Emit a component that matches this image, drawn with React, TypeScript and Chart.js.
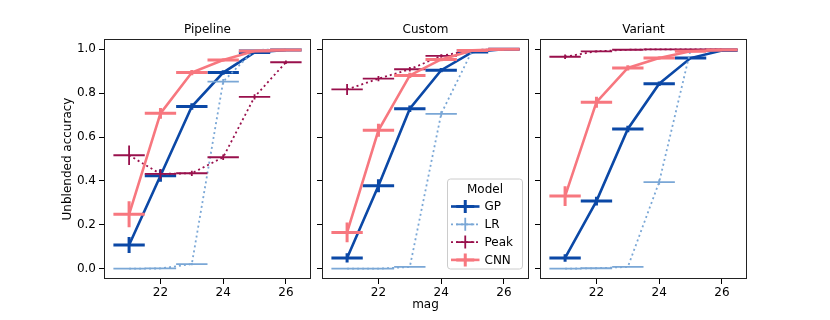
import React, { useEffect, useRef } from "react";
import { Chart, registerables } from "chart.js";

Chart.register(...registerables);

// ---------- data ----------
const mags = [21, 22, 23, 24, 25, 26];
const binHalfWidth = 0.5;
const xTicks = [22, 24, 26];
const yTicks = [0, 0.2, 0.4, 0.6, 0.8, 1.0];
const panelTitles = ["Pipeline", "Custom", "Variant"];
const seriesNames = ["GP", "LR", "Peak", "CNN"];
const legendTitle = "Model";
const xLabel = "mag";
const yLabel = "Unblended accuracy";

const pipelineGP = [0.108, 0.424, 0.739, 0.894, 0.986, 0.997];
const pipelineLR = [0.0, 0.001, 0.021, 0.853, 0.997, 1.0];
const pipelinePeak = [0.517, 0.432, 0.435, 0.508, 0.783, 0.941];
const pipelineCNN = [0.248, 0.708, 0.894, 0.951, 0.992, 0.997];

const customGP = [0.049, 0.378, 0.729, 0.905, 0.988, 1.0];
const customLR = [0.0, 0.0, 0.008, 0.706, 0.997, 1.0];
const customPeak = [0.817, 0.866, 0.909, 0.97, 0.997, 1.0];
const customCNN = [0.165, 0.631, 0.881, 0.954, 0.995, 1.0];

const variantGP = [0.049, 0.308, 0.637, 0.843, 0.96, 0.995];
const variantLR = [0.0, 0.002, 0.008, 0.395, 0.997, 1.0];
const variantPeak = [0.966, 0.991, 0.998, 1.0, 1.0, 1.0];
const variantCNN = [0.331, 0.759, 0.915, 0.96, 0.991, 0.997];

const pipelineGPErr = [0.036, 0.028, 0.015, 0.01, 0.004, 0.002];
const pipelineLRErr = [0.001, 0.001, 0.005, 0.012, 0.003, 0.001];
const pipelinePeakErr = [0.044, 0.022, 0.012, 0.012, 0.012, 0.008];
const pipelineCNNErr = [0.059, 0.025, 0.012, 0.008, 0.004, 0.002];

const customGPErr = [0.021, 0.03, 0.015, 0.01, 0.004, 0.002];
const customLRErr = [0.001, 0.001, 0.004, 0.012, 0.003, 0.001];
const customPeakErr = [0.025, 0.012, 0.01, 0.008, 0.003, 0.001];
const customCNNErr = [0.045, 0.03, 0.012, 0.008, 0.004, 0.002];

const variantGPErr = [0.017, 0.02, 0.015, 0.01, 0.006, 0.002];
const variantLRErr = [0.001, 0.001, 0.004, 0.012, 0.003, 0.001];
const variantPeakErr = [0.01, 0.005, 0.002, 0.001, 0.001, 0.001];
const variantCNNErr = [0.045, 0.025, 0.012, 0.008, 0.004, 0.002];

const panelValues = [
  [pipelineGP, pipelineLR, pipelinePeak, pipelineCNN],
  [customGP, customLR, customPeak, customCNN],
  [variantGP, variantLR, variantPeak, variantCNN],
];
const panelErrors = [
  [pipelineGPErr, pipelineLRErr, pipelinePeakErr, pipelineCNNErr],
  [customGPErr, customLRErr, customPeakErr, customCNNErr],
  [variantGPErr, variantLRErr, variantPeakErr, variantCNNErr],
];

// ---------- styles / layout ----------
const W = 830;
const H = 320;
const FONT = "DejaVu Sans";
const seriesColors = ["#0b48a6", "#7aa7d6", "#99104c", "#f7777f"];
const seriesLineWidths = [2.6, 1.8, 1.8, 2.6];
const seriesErrWidths = [3, 1.8, 1.8, 3];
const seriesDash: number[][] = [[], [2, 3], [2, 3], []];
const panelBoxes = [
  { left: 104, right: 311 },
  { left: 322, right: 529 },
  { left: 540, right: 747 },
];
const plotTop = 39;
const plotBottom = 279;
const xAxisH = 36;

function buildConfig(p: number): any {
  const box = panelBoxes[p];
  const yW = p === 0 ? 50 : 8;
  const datasets = seriesNames.map((name, s) => ({
    label: name,
    data: mags.map((m, k) => ({ x: m, y: panelValues[p][s][k] })),
    errs: panelErrors[p][s],
    borderColor: seriesColors[s],
    backgroundColor: seriesColors[s],
    borderWidth: seriesLineWidths[s],
    borderDash: seriesDash[s],
    borderCapStyle: "butt",
    pointRadius: 0,
    tension: 0,
    fill: false,
    order: seriesNames.length - s,
  }));

  const drawPlugin = {
    id: "panelDecor" + p,
    afterDatasetDraw(chart: any, args: any) {
      const ds = chart.data.datasets[args.index];
      const xs = chart.scales.x;
      const ys = chart.scales.y;
      const ctx = chart.ctx;
      const s = args.index;
      ctx.save();
      ctx.strokeStyle = seriesColors[s];
      ctx.lineWidth = seriesErrWidths[s];
      ctx.setLineDash([]);
      ctx.lineCap = "butt";
      ds.data.forEach((pt: any, k: number) => {
        const e = ds.errs[k];
        const px1 = xs.getPixelForValue(pt.x - binHalfWidth);
        const px2 = xs.getPixelForValue(pt.x + binHalfWidth);
        const px = xs.getPixelForValue(pt.x);
        const py = ys.getPixelForValue(pt.y);
        const pyLo = ys.getPixelForValue(pt.y - e);
        const pyHi = ys.getPixelForValue(pt.y + e);
        ctx.beginPath();
        ctx.moveTo(px1, py);
        ctx.lineTo(px2, py);
        ctx.moveTo(px, pyLo);
        ctx.lineTo(px, pyHi);
        ctx.stroke();
      });
      ctx.restore();
    },
    afterDraw(chart: any) {
      const ctx = chart.ctx;
      const a = chart.chartArea;
      ctx.save();
      // frame
      ctx.strokeStyle = "#222";
      ctx.lineWidth = 1;
      ctx.setLineDash([]);
      ctx.strokeRect(Math.round(a.left) + 0.5, Math.round(a.top) + 0.5, Math.round(a.right - a.left) - 1, Math.round(a.bottom - a.top) - 1);
      // title
      ctx.fillStyle = "#000";
      ctx.font = `12px "${FONT}"`;
      ctx.textAlign = "center";
      ctx.textBaseline = "alphabetic";
      ctx.fillText(panelTitles[p], (a.left + a.right) / 2, a.top - 6);
      if (p === 0) {
        ctx.save();
        ctx.translate(68, (a.top + a.bottom) / 2);
        ctx.rotate(-Math.PI / 2);
        ctx.textBaseline = "middle";
        ctx.fillText(yLabel, 0, 0);
        ctx.restore();
      }
      if (p === 1) {
        ctx.textBaseline = "top";
        ctx.fillText(xLabel, (a.left + a.right) / 2, a.bottom + 20);
        // legend
        const lw = 75;
        const lh = 90;
        const lx = a.right - 6.5 - lw;
        const ly = a.bottom - 10 - lh;
        ctx.beginPath();
        (ctx as any).roundRect(lx, ly, lw, lh, 3);
        ctx.fillStyle = "rgba(255,255,255,0.85)";
        ctx.fill();
        ctx.strokeStyle = "#cccccc";
        ctx.lineWidth = 1;
        ctx.stroke();
        ctx.fillStyle = "#000";
        ctx.textAlign = "center";
        ctx.textBaseline = "middle";
        ctx.fillText(legendTitle, lx + lw / 2, ly + 10.5);
        seriesNames.forEach((name, s) => {
          const ry = ly + 27.5 + s * 17.8;
          const hx1 = lx + 3.5;
          const hx2 = lx + 32;
          const hc = (hx1 + hx2) / 2;
          ctx.strokeStyle = seriesColors[s];
          ctx.lineWidth = seriesLineWidths[s];
          ctx.setLineDash(seriesDash[s]);
          ctx.beginPath();
          ctx.moveTo(hx1, ry);
          ctx.lineTo(hx2, ry);
          ctx.stroke();
          ctx.setLineDash([]);
          ctx.lineWidth = seriesErrWidths[s];
          ctx.beginPath();
          ctx.moveTo(hc - 9, ry);
          ctx.lineTo(hc + 9, ry);
          ctx.moveTo(hc, ry - 6.5);
          ctx.lineTo(hc, ry + 6.5);
          ctx.stroke();
          ctx.fillStyle = "#000";
          ctx.textAlign = "left";
          ctx.fillText(name, lx + 37, ry + 0.5);
        });
      }
      ctx.restore();
    },
  };

  const gridOpts = {
    display: true,
    drawOnChartArea: false,
    drawTicks: true,
    tickLength: 5,
    color: "#000",
    lineWidth: 1,
  };

  return {
    type: "line",
    data: { datasets },
    plugins: [drawPlugin],
    options: {
      responsive: false,
      animation: false,
      devicePixelRatio: 1,
      events: [],
      layout: {
        padding: {
          left: box.left - yW,
          right: W - box.right,
          top: plotTop,
          bottom: H - plotBottom - xAxisH,
        },
      },
      plugins: {
        legend: { display: false },
        tooltip: { enabled: false },
        title: { display: false },
      },
      scales: {
        x: {
          type: "linear",
          min: 20.2,
          max: 26.8,
          afterBuildTicks: (s: any) => {
            s.ticks = xTicks.map((v) => ({ value: v }));
          },
          afterFit: (s: any) => {
            s.height = xAxisH;
          },
          grid: gridOpts,
          border: { display: false },
          ticks: {
            color: "#000",
            font: { family: FONT, size: 12 },
            padding: 2,
            maxRotation: 0,
            autoSkip: false,
            callback: (v: any) => String(v),
          },
        },
        y: {
          type: "linear",
          min: -0.047,
          max: 1.047,
          afterBuildTicks: (s: any) => {
            s.ticks = yTicks.map((v) => ({ value: v }));
          },
          afterFit: (s: any) => {
            s.width = yW;
          },
          grid: gridOpts,
          border: { display: false },
          ticks: {
            display: p === 0,
            color: "#000",
            font: { family: FONT, size: 12 },
            padding: 3,
            callback: (v: any) => Number(v).toFixed(1),
          },
        },
      },
    },
  };
}

export default function App() {
  const r0 = useRef<HTMLCanvasElement>(null);
  const r1 = useRef<HTMLCanvasElement>(null);
  const r2 = useRef<HTMLCanvasElement>(null);
  const refs = [r0, r1, r2];
  useEffect(() => {
    const charts = refs.map((r, i) => new Chart(r.current as HTMLCanvasElement, buildConfig(i)));
    return () => charts.forEach((c) => c.destroy());
  }, []);
  return (
    <div style={{ position: "absolute", left: 0, top: 0, width: W, height: H, background: "#fff" }}>
      {refs.map((r, i) => (
        <canvas
          key={i}
          ref={r}
          width={W}
          height={H}
          style={{ position: "absolute", left: 0, top: 0, width: W, height: H }}
        />
      ))}
    </div>
  );
}
